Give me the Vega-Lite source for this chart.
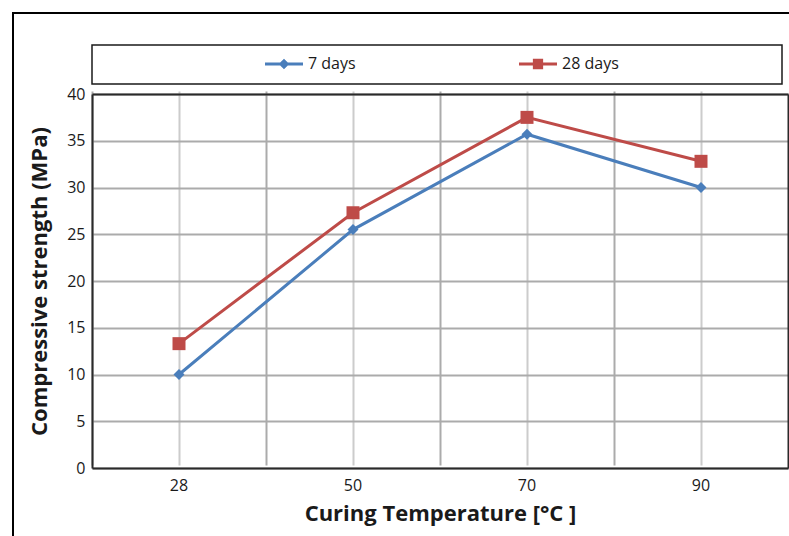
{
  "$schema": "https://vega.github.io/schema/vega-lite/v6.json",
  "width": 786,
  "height": 533,
  "autosize": {"type": "none"},
  "padding": {"left": 13, "top": 13, "right": 0, "bottom": 0},
  "background": "#ffffff",
  "config": {
    "view": {"stroke": "#000000", "strokeWidth": 2},
    "font": "Open Sans",
    "axis": {"labelFont": "Open Sans", "titleFont": "Open Sans"}
  },
  "data": {"values": [
    {"temp": 28, "series": "7 days", "strength": 10.0},
    {"temp": 50, "series": "7 days", "strength": 25.5},
    {"temp": 70, "series": "7 days", "strength": 35.7},
    {"temp": 90, "series": "7 days", "strength": 30.0},
    {"temp": 28, "series": "28 days", "strength": 13.3},
    {"temp": 50, "series": "28 days", "strength": 27.3},
    {"temp": 70, "series": "28 days", "strength": 37.5},
    {"temp": 90, "series": "28 days", "strength": 32.8}
  ]},
  "layer": [
    {
      "mark": {"type": "line", "strokeWidth": 3},
      "encoding": {
        "x": {
          "field": "temp", "type": "ordinal",
          "scale": {"type": "band", "domain": [28, 50, 70, 90], "range": [79, 775], "paddingInner": 0, "paddingOuter": 0},
          "axis": {
            "orient": "bottom", "offset": -78, "bandPosition": 0.5,
            "title": "Curing Temperature [°C ]", "titleFontSize": 22, "titleFontWeight": "bold", "titleColor": "#1a1a1a", "titlePadding": 10,
            "labelAngle": 0, "labelFontSize": 16, "labelColor": "#1a1a1a", "labelPadding": 9,
            "ticks": false, "domain": true, "domainColor": "#2a2a2a", "domainWidth": 2,
            "grid": true, "gridColor": "#cccccc", "gridWidth": 2
          }
        },
        "y": {
          "field": "strength", "type": "quantitative",
          "scale": {"domain": [0, 40], "range": [455, 81], "nice": false, "zero": true},
          "axis": {
            "orient": "left", "offset": -79, "values": [0, 5, 10, 15, 20, 25, 30, 35, 40],
            "title": "Compressive strength (MPa)", "titleFontSize": 22, "titleFontWeight": "bold", "titleColor": "#1a1a1a", "titlePadding": 15,
            "labelFontSize": 16, "labelColor": "#1a1a1a", "labelPadding": 7,
            "ticks": false, "domain": true, "domainColor": "#2a2a2a", "domainWidth": 2,
            "grid": true, "gridColor": "#ababab", "gridWidth": 2
          }
        },
        "color": {
          "field": "series", "type": "nominal",
          "scale": {"domain": ["7 days", "28 days"], "range": ["#4a7ebb", "#be4b48"]},
          "legend": {
            "orient": "none", "legendX": 79, "legendY": 32, "direction": "horizontal",
            "title": "________________________________________________________________",
            "titleOrient": "right", "titlePadding": 2, "titleLimit": 152, "titleFontSize": 10, "titleColor": "transparent",
            "strokeColor": "#1a1a1a", "padding": 12,
            "symbolSize": 1444, "symbolStrokeWidth": 0, "clipHeight": 14,
            "symbolOffset": 161, "labelOffset": 5, "columnPadding": 2,
            "labelFont": "Open Sans", "labelFontSize": 16, "labelColor": "#1a1a1a",
            "encode": {
              "legend": {"update": {"strokeWidth": {"value": 1.5}}},
              "symbols": {
                "update": {
                  "shape": {"signal": "datum.value === '7 days' ? 'M-1,-0.08H1V0.08H-1Z M0,-0.28L0.28,0L0,0.28L-0.28,0Z' : 'M-1,-0.08H1V0.08H-1Z M-0.27,-0.27H0.27V0.27H-0.27Z'"},
                  "fill": {"scale": "color", "field": "value"},
                  "stroke": {"value": "transparent"},
                  "strokeWidth": {"value": 0},
                  "opacity": {"value": 1}
                }
              }
            }
          }
        }
      }
    },
    {
      "transform": [{"filter": "datum.series === '7 days'"}],
      "mark": {"type": "point", "filled": true, "opacity": 1, "shape": "diamond", "size": 120},
      "encoding": {
        "x": {
          "field": "temp", "type": "ordinal",
          "axis": {
            "orient": "bottom", "offset": -78, "bandPosition": 0,
            "title": null, "labels": false, "ticks": false, "domain": false,
            "grid": true, "gridColor": "#ababab", "gridWidth": 2
          }
        },
        "y": {
          "field": "strength", "type": "quantitative",
          "axis": {
            "orient": "right", "offset": -11, "title": null, "labels": false, "ticks": false, "grid": false,
            "domain": true, "domainColor": "#2a2a2a", "domainWidth": 2
          }
        },
        "color": {"field": "series", "type": "nominal"}
      }
    },
    {
      "transform": [{"filter": "datum.series === '28 days'"}],
      "mark": {"type": "point", "filled": true, "opacity": 1, "shape": "square", "size": 169},
      "encoding": {
        "x": {
          "field": "temp", "type": "ordinal",
          "axis": {
            "orient": "top", "offset": -81, "title": null, "labels": false, "ticks": false, "grid": false,
            "domain": true, "domainColor": "#2a2a2a", "domainWidth": 2
          }
        },
        "y": {"field": "strength", "type": "quantitative", "axis": null},
        "color": {"field": "series", "type": "nominal"}
      }
    }
  ],
  "resolve": {"axis": {"x": "independent", "y": "independent"}}
}
